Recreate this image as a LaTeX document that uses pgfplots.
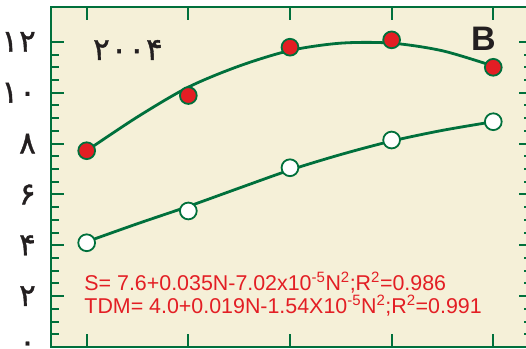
\documentclass[border=0pt]{standalone}
\usepackage{fontspec}
\usepackage{pgfplots}
\pgfplotsset{compat=1.18}
\setmainfont{Liberation Sans}
\newfontfamily\persian[Script=Arabic, FakeBold=1.2]{DejaVu Sans}
\definecolor{bg}{RGB}{245,240,216}
\definecolor{dgreen}{RGB}{0,112,60}
\definecolor{dred}{RGB}{227,30,36}
\definecolor{ink}{RGB}{35,31,32}
\newcommand{\pfont}{\persian\fontsize{31}{31}\selectfont}

% Fitted response curves (x = N level index)
\pgfplotstableread{
k    v
0    7.72
0.5  9.05
1    10.22
1.5  11.05
2    11.66
2.5  11.95
3    11.95
3.5  11.65
4    11.05
}\curveS
\pgfplotstableread{
k    v
0    4.14
0.5  4.85
1    5.53
1.5  6.25
2    6.96
2.5  7.57
3    8.10
3.5  8.52
4    8.86
}\curveTDM
% Observed means
\pgfplotstableread{
k  v
0  7.72
1  9.89
2  11.79
3  12.08
4  11.00
}\obsS
\pgfplotstableread{
k  v
0  4.10
1  5.35
2  7.05
3  8.14
4  8.86
}\obsTDM

\begin{document}
\begin{tikzpicture}
\begin{axis}[
  at={(0,0)}, anchor=south west,
  scale only axis, width=481pt, height=339.7pt,
  xmin=-0.351, xmax=4.381, ymin=0, ymax=13.36,
  axis line style={dgreen, line width=2.4pt},
  axis background/.style={fill=bg},
  xtick={0,...,4}, xticklabels={},
  ytick={0,2,...,12},
  yticklabels={۰,۲,۴,۶,۸,۱\kern1pt۰,۱\kern1pt۲},
  minor y tick num=3,
  tick align=inside,
  major tick length=13pt, minor tick length=8pt,
  tick style={dgreen, line width=2pt},
  yticklabel style={font=\pfont, text=ink, anchor=east, inner sep=0pt, xshift=-15pt},
  clip=false,
]
\addplot[dgreen, line width=2.8pt, smooth] table[x=k, y=v] {\curveS};
\addplot[dgreen, line width=2.8pt, smooth] table[x=k, y=v] {\curveTDM};
\addplot[only marks, mark=*, mark size=8.4pt, mark options={fill=dred, draw=dgreen, line width=1.8pt}] table[x=k, y=v] {\obsS};
\addplot[only marks, mark=*, mark size=8.4pt, mark options={fill=white, draw=dgreen, line width=1.8pt}] table[x=k, y=v] {\obsTDM};

\node[font=\pfont, text=ink] at (axis cs:0.406,11.68) {۲\kern1pt۰\kern1pt۰\kern1pt۴};
\node[font=\fontsize{34}{34}\selectfont\bfseries, text=ink] at (axis cs:3.903,12.14) {B};
\node[font=\fontsize{21.4}{22}\selectfont, text=dred, anchor=base west, inner sep=0pt] at (axis cs:-0.024,2.24)
  {S= 7.6+0.035N-7.02x10\textsuperscript{-5}N\textsuperscript{2};R\textsuperscript{2}=0.986};
\node[font=\fontsize{21.4}{22}\selectfont, text=dred, anchor=base west, inner sep=0pt] at (axis cs:-0.024,1.33)
  {TDM= 4.0+0.019N-1.54X10\textsuperscript{-5}N\textsuperscript{2};R\textsuperscript{2}=0.991};
\end{axis}
\pgfresetboundingbox
\useasboundingbox (-51pt,-1pt) rectangle (475pt,347pt);
\end{tikzpicture}
\end{document}
